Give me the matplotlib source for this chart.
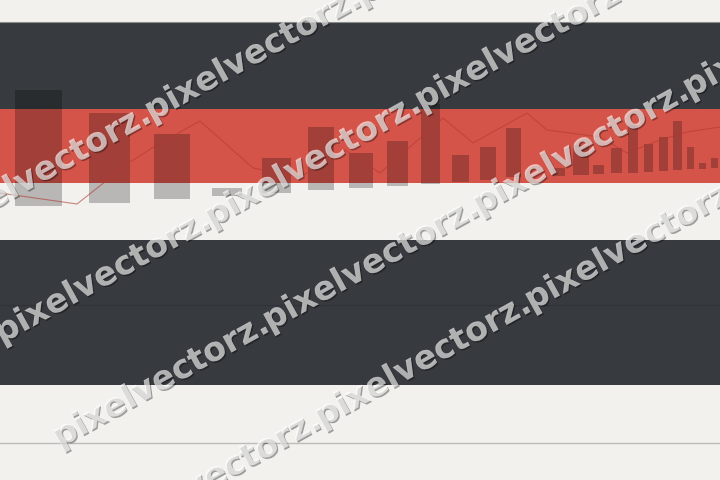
import numpy as np
import matplotlib
matplotlib.use("Agg")
import matplotlib.pyplot as plt
import matplotlib.patheffects as pe
from matplotlib.patches import Rectangle

# bars (pixel-like units, y grows downwards)
bar_left = [15, 89, 154, 212, 262, 308, 349, 387, 421, 452, 480, 506,
            553, 573, 593, 611, 628, 644, 659, 673, 687, 699, 711]
bar_right = [62, 130, 190, 242, 291, 334, 373, 408, 440, 469, 496, 521,
             565, 589, 604, 622, 638, 653, 668, 682, 694, 706, 718]
bar_top = [90, 113, 134, 188, 158, 127, 153, 141, 104, 155, 147, 128,
           168, 145, 165, 148, 125, 144, 137, 121, 147, 163, 158]
bar_bottom = [206, 203, 199, 196, 193, 190, 188, 186, 184, 182, 180, 177,
              176, 175, 174, 173, 173, 172, 171, 170, 169, 169, 168]

# faint trend line
line_x = [0, 77, 130, 157, 200, 253, 300, 345, 380, 443, 473, 527, 547,
          600, 627, 660, 687, 720]
line_y = [193, 204, 162, 145, 121, 168, 177, 150, 173, 118, 143, 113, 130,
          137, 153, 140, 132, 127]

# watermark rows: intercept at x=0, x of first word, number of words
wm_text = "pixelvectorz."
wm_intercept = [195, 334, 470, 595]
wm_start = [-63, -3, 55, 107]
wm_count = [3, 3, 4, 3]
wm_step = 210
wm_angle = 29

fig = plt.figure(figsize=(7.2, 4.8), dpi=100)
fig.patch.set_facecolor('#f2f1ee')
ax = fig.add_axes([0, 0, 1, 1])
ax.set_xlim(0, 720)
ax.set_ylim(480, 0)
ax.axis('off')

# background bands
ax.axhspan(21.5, 108.5, color='#373a3e', lw=0)
ax.axhspan(108.5, 182.5, color='#d5544a', lw=0)
ax.axhspan(240, 385, color='#373a3e', lw=0)
ax.axhline(21.5, color='#8c8c8a', lw=0.8)
ax.axhline(305, color='#2f3236', lw=0.8)
ax.axhline(443, color='#bdbcb8', lw=1)

bl = np.array(bar_left)
br = np.array(bar_right)
bt = np.array(bar_top)
bb = np.array(bar_bottom)
ax.bar(bl, bb - bt, width=br - bl, bottom=bt, align='edge',
       color='black', alpha=0.24, lw=0)

ax.plot(line_x, line_y, color='#b03a30', lw=0.8, alpha=0.6)

# watermark
tan_a = np.tan(np.radians(wm_angle))
for b, x0, n in zip(wm_intercept, wm_start, wm_count):
    for k in range(n):
        x = x0 + k * wm_step
        t = ax.text(x, b - tan_a * x, wm_text, rotation=wm_angle,
                    rotation_mode='anchor', ha='left', va='center',
                    fontsize=24, fontweight='bold', family='DejaVu Sans',
                    color=(1, 1, 1, 0.4),
                    path_effects=[pe.withSimplePatchShadow(offset=(1, -1), shadow_rgbFace='k', alpha=0.35),
                                  pe.Normal()])
        if n == 4:
            t.set_clip_path(Rectangle((0, 0), 692, 480, transform=ax.transData))

fig.savefig('out.png', dpi=100, facecolor=fig.get_facecolor())
